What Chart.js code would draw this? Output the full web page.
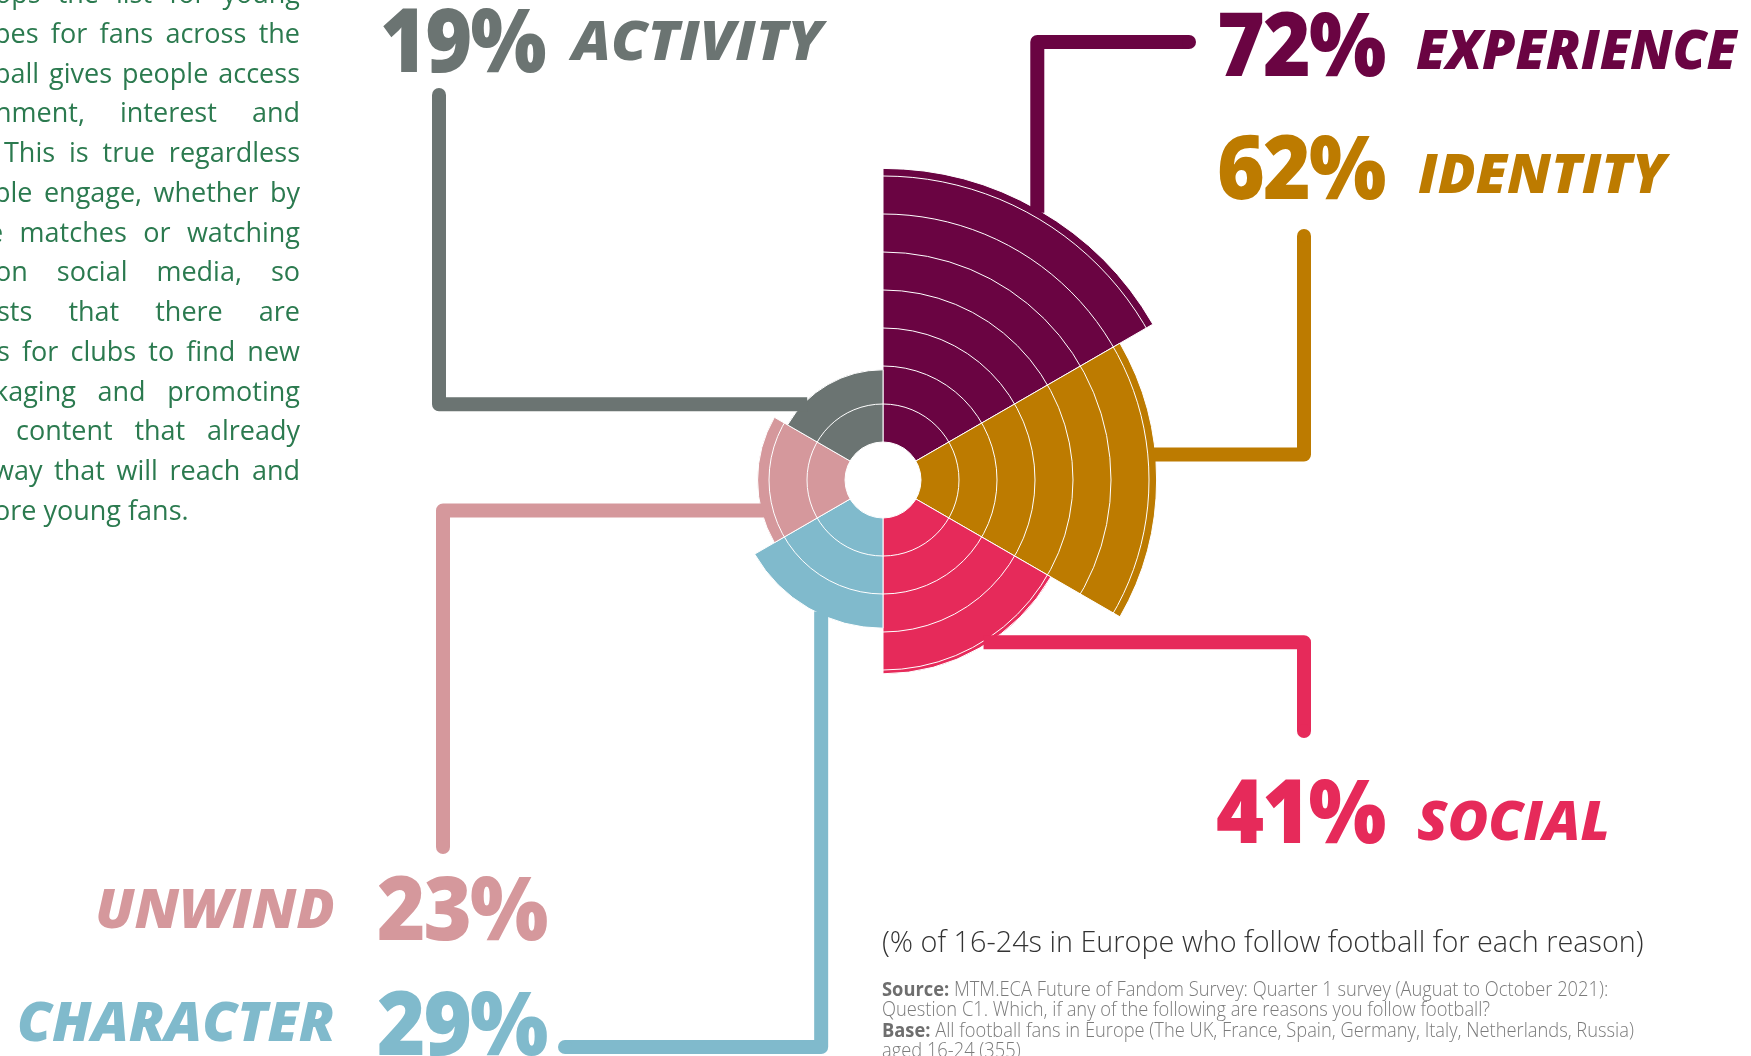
<!DOCTYPE html>
<html>
<head>
<meta charset="utf-8">
<title>Reasons for following football</title>
<script src="https://cdn.jsdelivr.net/npm/chart.js@4.4.1/dist/chart.umd.min.js"></script>
<style>
  html, body { margin: 0; padding: 0; background: #fff; }
  #page { position: relative; width: 1751px; height: 1056px; overflow: hidden; font-family: 'Open Sans', sans-serif; }
  #reasonsChart { position: absolute; left: 0; top: 0; }
  .ln { position: absolute; white-space: nowrap; font-size: 27px; line-height: 27px; color: #2b7a4f; text-align: justify; text-align-last: justify; }
  .ln.last { text-align-last: left; }
  .pct { position: absolute; font-weight: 800; font-size: 88px; line-height: 88px; white-space: nowrap; letter-spacing: -2px; transform-origin: left center; }
  .word { position: absolute; font-weight: 800; font-style: italic; font-size: 55px; line-height: 55px; white-space: nowrap; }
  #caption { position: absolute; left: 882px; font-size: 26px; line-height: 26px; font-weight: 300; color: #333; white-space: nowrap; }
  #source { position: absolute; left: 882px; top: 979px; font-size: 20px; line-height: 20.4px; font-weight: 300; color: #7b7b7b; white-space: nowrap; transform-origin: left top; }
  #source b { font-weight: 700; color: #6e6e6e; }
</style>
</head>
<body>
<div id="page">
  <canvas id="reasonsChart" width="1751" height="1056"></canvas>
  <div id="caption">(% of 16-24s in Europe who follow football for each reason)</div>
  <div id="source"><b>Source:</b> MTM.ECA Future of Fandom Survey: Quarter 1 survey (Auguat to October 2021):<br>Question C1. Which, if any of the following are reasons you follow football?<br><b>Base:</b> All football fans in Europe (The UK, France, Spain, Germany, Italy, Netherlands, Russia)<br>aged 16-24 (355)</div>
</div>
<script>
// reasons, clockwise from 12 o'clock
const reasons = ['EXPERIENCE', 'IDENTITY', 'SOCIAL', 'CHARACTER', 'UNWIND', 'ACTIVITY'];
const shares = [72, 62, 41, 29, 23, 19];
const colours = ['#6a0442', '#bd7b00', '#e62a5a', '#80bacc', '#d5989c', '#6b7472'];
const ringStep = 10;

// intro paragraph, one entry per line (text, left x)
const introLines = [
  ['ops the list for young', -5],
  ['pes for fans across the', -6],
  ['ball gives people access', -6],
  ['nment, interest and', -5],
  ['This is true regardless', 4],
  ['ple engage, whether by', -6],
  ['e matches or watching', -12],
  ['on social media, so', -5],
  ['sts that there are', -3],
  ['s for clubs to find new', -3],
  ['kaging and promoting', -6],
  ['content that already', 16],
  ['way that will reach and', -7],
  ['ore young fans.', -6]
];

// where each label sits (baselines in px), and how wide it runs
const labelLayout = [
  { pctX: 1217, pctBase: 76,   pctW: 168, wordX: 1416, wordBase: 69,   wordW: 321 },
  { pctX: 1217, pctBase: 199,  pctW: 168, wordX: 1418, wordBase: 193,  wordW: 248 },
  { pctX: 1216, pctBase: 843,  pctW: 169, wordX: 1417, wordBase: 840,  wordW: 193 },
  { pctX: 377,  pctBase: 1055, pctW: 170, wordR: 335,  wordBase: 1041, wordW: 318 },
  { pctX: 377,  pctBase: 940,  pctW: 170, wordR: 335,  wordBase: 928,  wordW: 240 },
  { pctX: 380,  pctBase: 72,   pctW: 165, wordX: 572,  wordBase: 60,   wordW: 251 }
];

// leader lines: leave the slice at a fraction of its angle, run h/v to "turn", then to "end"
const leaderLayout = [
  { frac: 0.50, first: 'v', turn: 42,   end: 1189 },
  { frac: 0.41, first: 'h', turn: 1304, end: 236 },
  { frac: 0.47, first: 'h', turn: 1304, end: 731 },
  { frac: 0.42, first: 'v', turn: 1047, end: 565 },
  { frac: 0.26, first: 'h', turn: 443,  end: 847 },
  { frac: 0.25, first: 'h', turn: 439,  end: 95 }
];

const page = document.getElementById('page');
const ASC = 0.888; // Open Sans baseline offset at line-height 1

introLines.forEach(([text, x0], i) => {
  const d = document.createElement('div');
  d.className = 'ln' + (i === introLines.length - 1 ? ' last' : '');
  d.textContent = text;
  const base = 3 + 39.75 * i;
  d.style.left = x0 + 'px';
  d.style.width = (300 - x0) + 'px';
  d.style.top = (base - ASC * 27) + 'px';
  page.appendChild(d);
});

reasons.forEach((name, i) => {
  const L = labelLayout[i];
  const p = document.createElement('div');
  p.className = 'pct';
  p.style.color = colours[i];
  p.textContent = shares[i] + '%';
  p.style.left = L.pctX + 'px';
  p.style.top = (L.pctBase - ASC * 88) + 'px';
  page.appendChild(p);
  p.style.transform = 'scaleX(' + (L.pctW / p.offsetWidth).toFixed(3) + ')';

  const w = document.createElement('div');
  w.className = 'word';
  w.style.color = colours[i];
  w.textContent = name;
  w.style.top = (L.wordBase - ASC * 55) + 'px';
  if (L.wordR !== undefined) {
    w.style.right = (1751 - L.wordR) + 'px';
    w.style.transformOrigin = 'right center';
  } else {
    w.style.left = L.wordX + 'px';
    w.style.transformOrigin = 'left center';
  }
  page.appendChild(w);
  w.style.transform = 'scaleX(' + (L.wordW / w.offsetWidth).toFixed(3) + ')';
});

// caption sized to run 762px, baseline at 953
const cap = document.getElementById('caption');
const capSize = 26 * 762 / cap.offsetWidth;
cap.style.fontSize = capSize.toFixed(2) + 'px';
cap.style.lineHeight = capSize.toFixed(2) + 'px';
cap.style.top = (953 - ASC * capSize) + 'px';

const src = document.getElementById('source');
src.style.transform = 'scaleX(' + (752 / src.offsetWidth).toFixed(3) + ')';

// white hole in the middle of the rose
const hubPlugin = {
  id: 'hub',
  afterDatasetsDraw(chart) {
    const r = chart.scales.r;
    const ctx = chart.ctx;
    ctx.save();
    ctx.fillStyle = '#fff';
    ctx.beginPath();
    ctx.arc(r.xCenter, r.yCenter, r.getDistanceFromCenterForValue(0), 0, Math.PI * 2);
    ctx.fill();
    ctx.restore();
  }
};

// elbow lines from each slice out to its label
const leaderPlugin = {
  id: 'leaders',
  afterDraw(chart) {
    const ctx = chart.ctx;
    const arcs = chart.getDatasetMeta(0).data;
    ctx.save();
    ctx.lineWidth = 14;
    ctx.lineJoin = 'round';
    ctx.lineCap = 'butt';
    arcs.forEach((arc, i) => {
      const L = leaderLayout[i];
      const a = arc.startAngle + L.frac * (arc.endAngle - arc.startAngle);
      const rr = arc.outerRadius - 3;
      const px = arc.x + rr * Math.cos(a);
      const py = arc.y + rr * Math.sin(a);
      let ex, ey;
      ctx.strokeStyle = colours[i];
      ctx.fillStyle = colours[i];
      ctx.beginPath();
      ctx.moveTo(px, py);
      if (L.first === 'h') {
        ctx.lineTo(L.turn, py);
        ex = L.turn; ey = L.end;
      } else {
        ctx.lineTo(px, L.turn);
        ex = L.end; ey = L.turn;
      }
      ctx.lineTo(ex, ey);
      ctx.stroke();
      ctx.beginPath();
      ctx.arc(ex, ey, 7, 0, Math.PI * 2);
      ctx.fill();
    });
    ctx.restore();
  }
};

const reasonsCtx = document.getElementById('reasonsChart').getContext('2d');
const reasonsChart = new Chart(reasonsCtx, {
  type: 'polarArea',
  data: {
    labels: reasons,
    datasets: [{
      data: shares,
      backgroundColor: colours,
      borderColor: '#fff',
      borderWidth: 1
    }]
  },
  options: {
    responsive: false,
    animation: false,
    events: [],
    layout: { padding: { left: 541, right: 526, top: 138, bottom: 234 } },
    scales: {
      r: {
        min: -ringStep,
        max: 80,
        startAngle: 0,
        ticks: { display: false, stepSize: ringStep },
        grid: { color: '#fff', lineWidth: 1, z: 1 },
        angleLines: { display: false },
        pointLabels: { display: false }
      }
    },
    plugins: {
      legend: { display: false },
      tooltip: { enabled: false }
    }
  },
  plugins: [hubPlugin, leaderPlugin]
});
</script>
</body>
</html>
